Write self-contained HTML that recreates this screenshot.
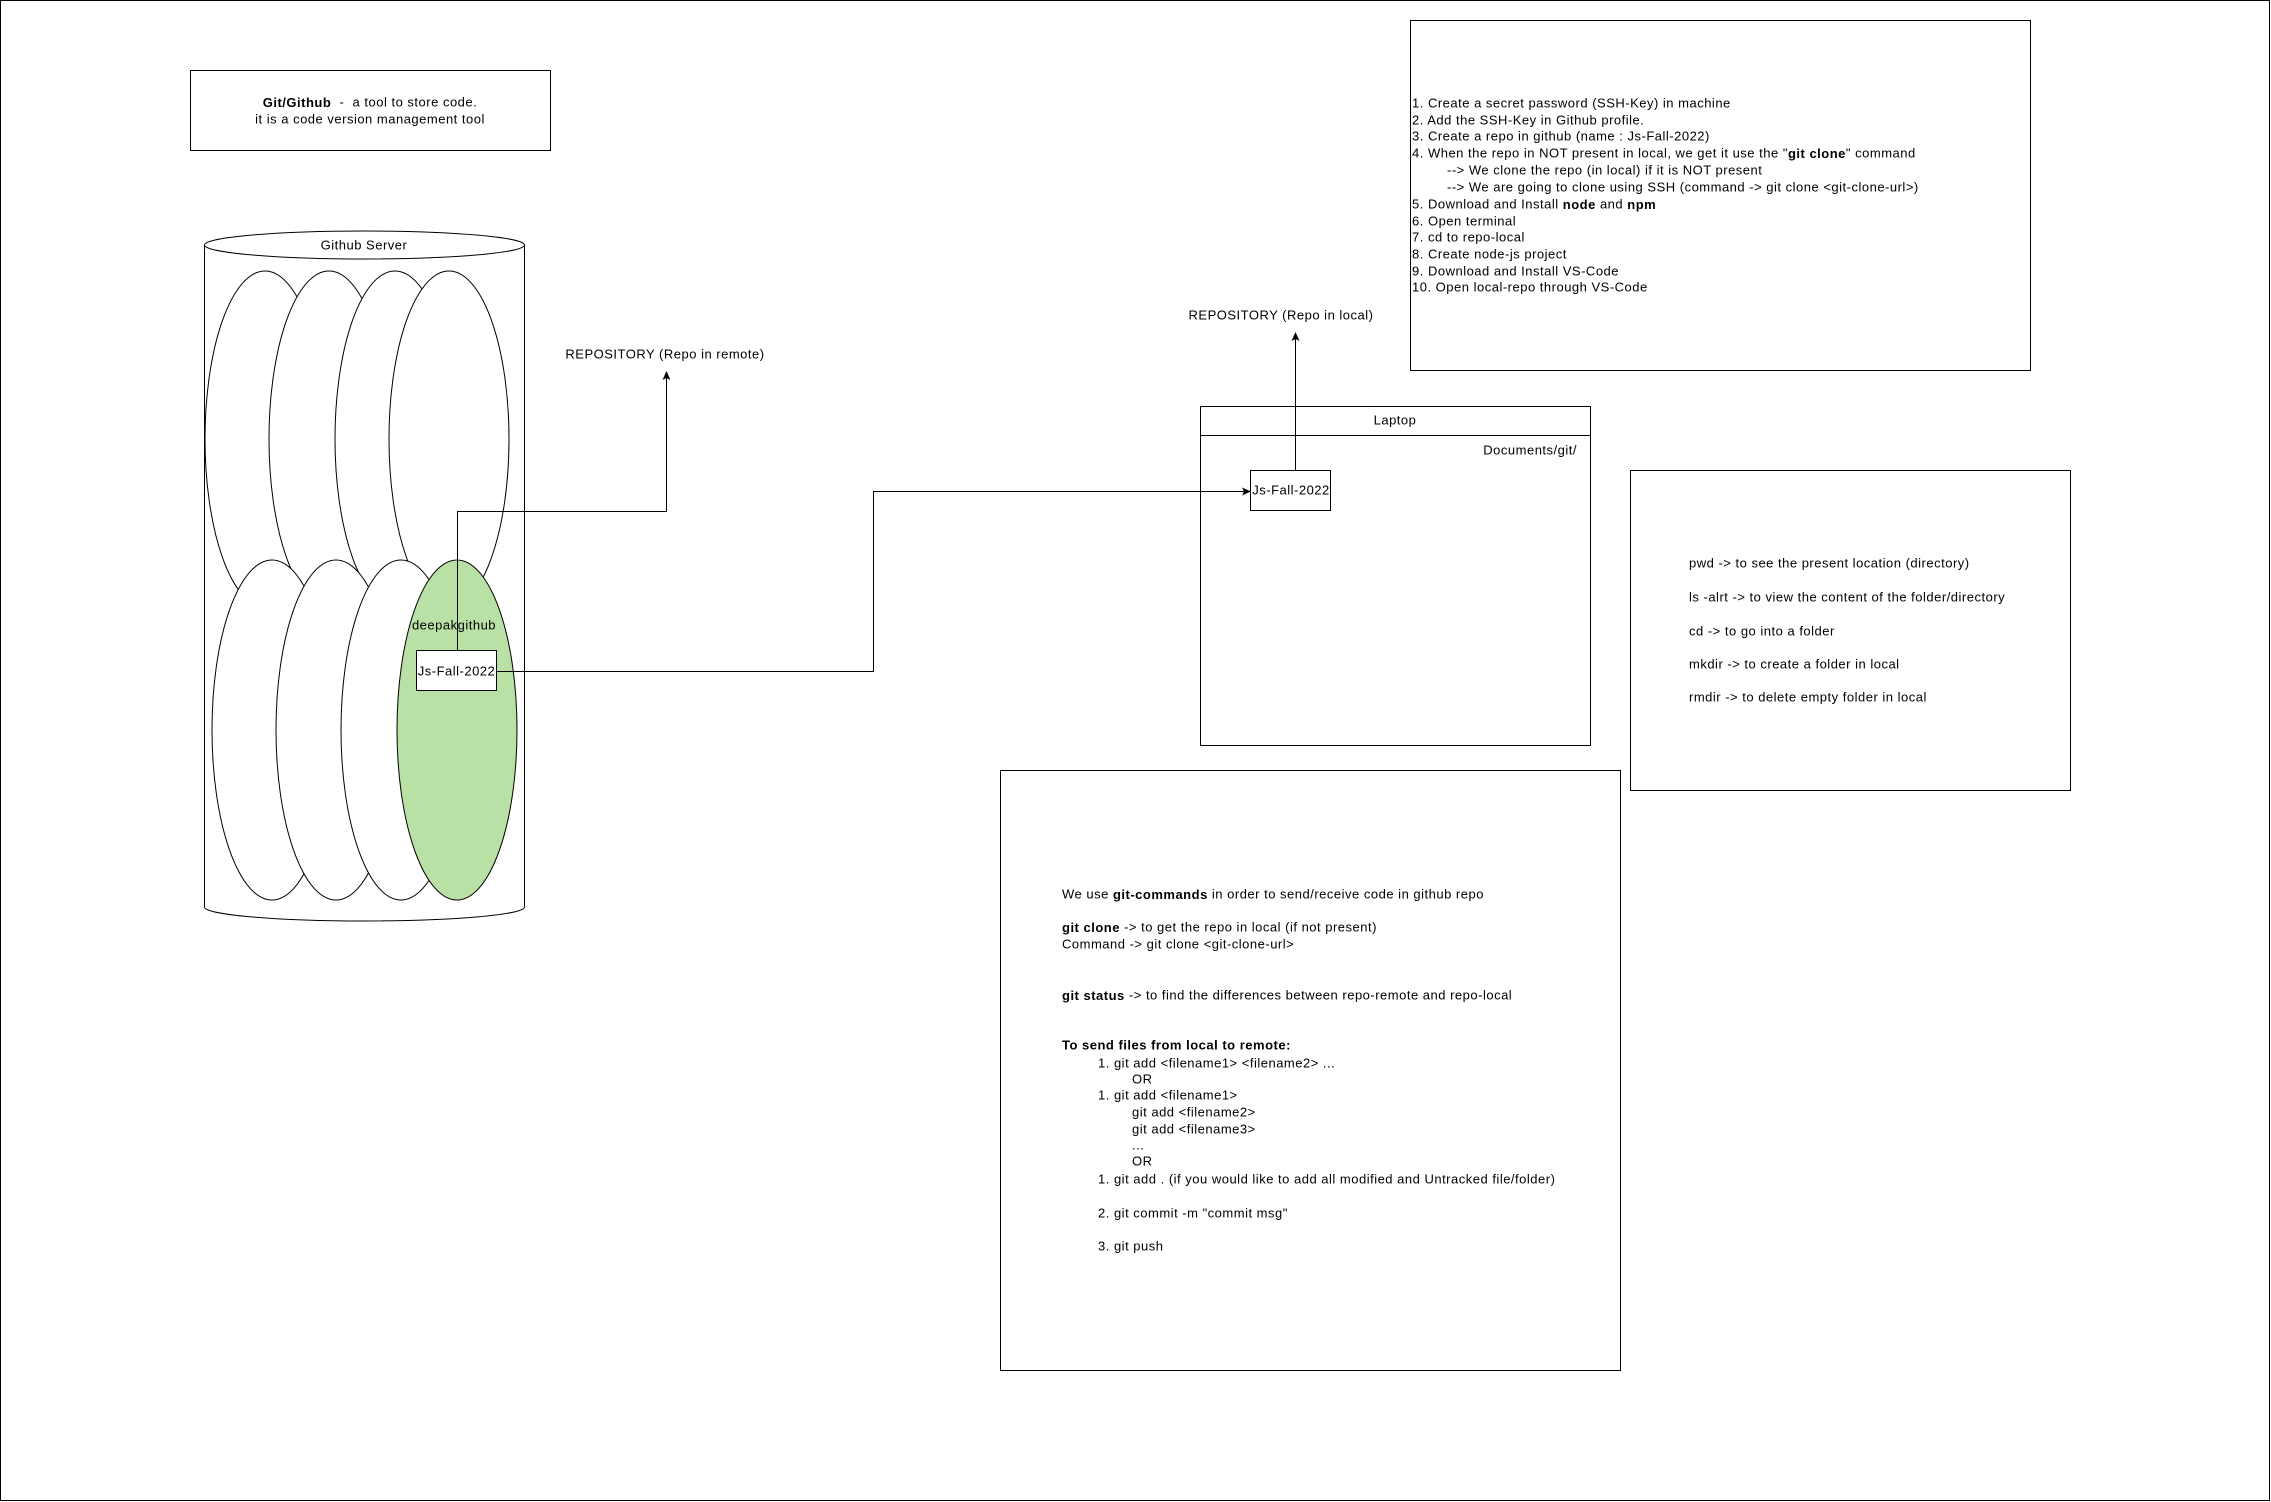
<!DOCTYPE html>
<html><head><meta charset="utf-8"><style>
html,body{margin:0;padding:0;background:#fff}
svg{display:block}
text{font-family:"Liberation Sans",Arial,sans-serif;font-size:13px;fill:#000;dominant-baseline:central;letter-spacing:0.5px;white-space:pre}
</style></head><body>
<svg width="2271" height="1502" viewBox="0 0 2271 1502" xmlns="http://www.w3.org/2000/svg">
<defs><marker id="a" markerWidth="10" markerHeight="10" refX="8" refY="5" orient="auto" markerUnits="userSpaceOnUse"><path d="M0,1 L9,5 L0,9 L2,5 Z" fill="#000"/></marker></defs>
<rect x="0.5" y="0.5" width="2269" height="1500" fill="#fff" stroke="#000"/>
<!-- title -->
<rect x="190.5" y="70.5" width="360" height="80" fill="#fff" stroke="#000"/>
<text x="370" y="102" text-anchor="middle" xml:space="preserve"><tspan font-weight="bold">Git/Github</tspan>  -  a tool to store code.</text>
<text x="370" y="119" text-anchor="middle">it is a code version management tool</text>
<!-- cylinder -->
<path d="M204.5,245 L204.5,907 A160,14 0 0 0 524.5,907 L524.5,245" fill="#fff" stroke="#000"/>
<ellipse cx="364.5" cy="245" rx="160" ry="14" fill="#fff" stroke="#000"/>
<text x="364" y="245" text-anchor="middle">Github Server</text>
<g stroke="#000" fill="#fff">
<ellipse cx="265" cy="439" rx="60" ry="168"/>
<ellipse cx="329" cy="439" rx="60" ry="168"/>
<ellipse cx="395" cy="439" rx="60" ry="168"/>
<ellipse cx="449" cy="439" rx="60" ry="168"/>
<ellipse cx="272" cy="730" rx="60" ry="170"/>
<ellipse cx="336" cy="730" rx="60" ry="170"/>
<ellipse cx="401" cy="730" rx="60" ry="170"/>
<ellipse cx="457" cy="730" rx="60" ry="170" fill="#b9e0a5"/>
</g>
<text x="454" y="625" text-anchor="middle">deepakgithub</text>
<!-- connectors -->
<path d="M457.5,650 L457.5,511.5 L666.5,511.5 L666.5,372" fill="none" stroke="#000" marker-end="url(#a)"/>
<path d="M497,671.5 L873.5,671.5 L873.5,491.5 L1250,491.5" fill="none" stroke="#000" marker-end="url(#a)"/>
<path d="M1295.5,470 L1295.5,333" fill="none" stroke="#000" marker-end="url(#a)"/>
<rect x="416.5" y="650.5" width="80" height="40" fill="#fff" stroke="#000"/>
<text x="456.5" y="671" text-anchor="middle">Js-Fall-2022</text>
<text x="665" y="354" text-anchor="middle">REPOSITORY (Repo in remote)</text>
<text x="1281" y="315" text-anchor="middle">REPOSITORY (Repo in local)</text>
<!-- laptop -->
<rect x="1200.5" y="406.5" width="390" height="339" fill="none" stroke="#000"/>
<line x1="1200.5" y1="435.5" x2="1590.5" y2="435.5" stroke="#000"/>
<path d="M1295.5,470 L1295.5,436" stroke="#000"/>
<text x="1395" y="420" text-anchor="middle">Laptop</text>
<text x="1577" y="450" text-anchor="end">Documents/git/</text>
<rect x="1250.5" y="470.5" width="80" height="40" fill="#fff" stroke="#000"/>
<text x="1291" y="490" text-anchor="middle">Js-Fall-2022</text>
<!-- steps -->
<rect x="1410.5" y="20.5" width="620" height="350" fill="#fff" stroke="#000"/>
<g>
<text x="1412" y="103">1. Create a secret password (SSH-Key) in machine</text>
<text x="1412" y="120">2. Add the SSH-Key in Github profile.</text>
<text x="1412" y="136">3. Create a repo in github (name : Js-Fall-2022)</text>
<text x="1412" y="153">4. When the repo in NOT present in local, we get it use the "<tspan font-weight="bold">git clone</tspan>" command</text>
<text x="1447" y="170">--&gt; We clone the repo (in local) if it is NOT present</text>
<text x="1447" y="187">--&gt; We are going to clone using SSH (command -&gt; git clone &lt;git-clone-url&gt;)</text>
<text x="1412" y="204">5. Download and Install <tspan font-weight="bold">node</tspan> and <tspan font-weight="bold">npm</tspan></text>
<text x="1412" y="221">6. Open terminal</text>
<text x="1412" y="237">7. cd to repo-local</text>
<text x="1412" y="254">8. Create node-js project</text>
<text x="1412" y="271">9. Download and Install VS-Code</text>
<text x="1412" y="287">10. Open local-repo through VS-Code</text>
</g>
<!-- commands -->
<rect x="1630.5" y="470.5" width="440" height="320" fill="#fff" stroke="#000"/>
<text x="1689" y="563">pwd -&gt; to see the present location (directory)</text>
<text x="1689" y="597">ls -alrt -&gt; to view the content of the folder/directory</text>
<text x="1689" y="631">cd -&gt; to go into a folder</text>
<text x="1689" y="664">mkdir -&gt; to create a folder in local</text>
<text x="1689" y="697">rmdir -&gt; to delete empty folder in local</text>
<!-- git commands -->
<rect x="1000.5" y="770.5" width="620" height="600" fill="#fff" stroke="#000"/>
<text x="1062" y="894">We use <tspan font-weight="bold">git-commands</tspan> in order to send/receive code in github repo</text>
<text x="1062" y="927"><tspan font-weight="bold">git clone</tspan> -&gt; to get the repo in local (if not present)</text>
<text x="1062" y="944">Command -&gt; git clone &lt;git-clone-url&gt;</text>
<text x="1062" y="995"><tspan font-weight="bold">git status</tspan> -&gt; to find the differences between repo-remote and repo-local</text>
<text x="1062" y="1045" font-weight="bold">To send files from local to remote:</text>
<text x="1098" y="1063">1. git add &lt;filename1&gt; &lt;filename2&gt; ...</text>
<text x="1132" y="1079">OR</text>
<text x="1098" y="1095">1. git add &lt;filename1&gt;</text>
<text x="1132" y="1112">git add &lt;filename2&gt;</text>
<text x="1132" y="1129">git add &lt;filename3&gt;</text>
<text x="1132" y="1145">...</text>
<text x="1132" y="1161">OR</text>
<text x="1098" y="1179">1. git add . (if you would like to add all modified and Untracked file/folder)</text>
<text x="1098" y="1213">2. git commit -m "commit msg"</text>
<text x="1098" y="1246">3. git push</text>
</svg>
</body></html>
